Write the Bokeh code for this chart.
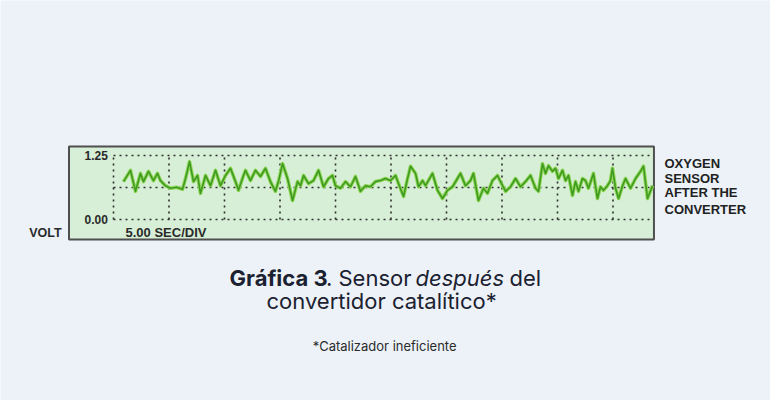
from bokeh.plotting import figure
from bokeh.models import Range1d
from bokeh.core.properties import value
from bokeh.embed import file_html
from bokeh.resources import INLINE

# ---------------- data ----------------
time_s = [0.90, 1.53, 1.98, 2.43, 2.70, 3.15, 3.60, 3.96, 4.23, 4.68,
          5.14, 5.68, 6.22, 6.49, 6.85, 7.21, 7.57, 7.84, 8.29, 8.74,
          9.19, 9.64, 10.09, 10.54, 10.99, 11.26, 11.71, 11.89, 12.34, 12.79,
          13.24, 13.69, 14.14, 14.59, 14.86, 15.23, 15.68, 16.13, 16.58, 16.85,
          17.12, 17.57, 18.02, 18.47, 18.92, 19.37, 19.73, 20.00, 20.45, 20.90,
          21.35, 21.80, 22.25, 22.70, 23.15, 23.60, 24.05, 24.50, 24.95, 25.41,
          25.68, 26.13, 26.49, 26.76, 27.21, 27.48, 27.84, 28.11, 28.74, 29.19,
          29.64, 30.09, 30.54, 30.99, 31.26, 31.71, 32.16, 32.43, 32.88, 33.33,
          33.69, 34.14, 34.59, 35.05, 35.32, 35.77, 36.22, 36.67, 37.12, 37.57,
          38.02, 38.29, 38.65, 38.92, 39.19, 39.55, 39.82, 40.09, 40.45, 40.72,
          40.99, 41.35, 41.62, 41.89, 42.25, 42.52, 42.79, 43.24, 43.60, 43.87,
          44.14, 44.50, 44.77, 44.95, 45.23, 45.50, 45.86, 46.13, 46.58, 47.03,
          47.48, 47.75, 48.11, 48.56]
volts = [0.74, 0.96, 0.55, 0.90, 0.74, 0.94, 0.76, 0.90, 0.76, 0.66,
         0.61, 0.63, 0.59, 0.80, 1.13, 0.74, 0.86, 0.51, 0.86, 0.66,
         0.96, 0.66, 0.86, 1.00, 0.74, 0.57, 0.86, 0.96, 0.76, 0.96,
         0.84, 1.00, 0.74, 0.55, 0.74, 1.09, 0.80, 0.37, 0.74, 0.66,
         0.86, 0.70, 0.76, 0.96, 0.64, 0.80, 0.86, 0.66, 0.61, 0.74,
         0.64, 0.84, 0.55, 0.66, 0.64, 0.74, 0.76, 0.80, 0.76, 0.86,
         0.70, 0.45, 0.80, 1.04, 0.90, 0.64, 0.76, 0.66, 0.90, 0.57,
         0.41, 0.57, 0.64, 0.80, 0.90, 0.66, 0.76, 0.90, 0.37, 0.61,
         0.51, 0.76, 0.86, 0.66, 0.55, 0.64, 0.80, 0.64, 0.74, 0.86,
         0.61, 0.55, 1.09, 0.90, 1.05, 0.94, 1.00, 0.80, 0.96, 0.76,
         0.86, 0.47, 0.74, 0.55, 0.80, 0.76, 0.61, 0.90, 0.41, 0.64,
         0.57, 0.66, 0.76, 1.00, 0.61, 0.41, 0.66, 0.80, 0.61, 0.80,
         0.94, 1.04, 0.41, 0.66]

div_ticks = [0, 5, 10, 15, 20, 25, 30, 35, 40, 45]      # 5.00 s per division
volt_grid = [0.0, 0.625, 1.25]
volt_tick_values = [1.25, 0.0]
volt_tick_labels = ["1.25", "0.00"]
time_label = "5.00 SEC/DIV"
unit_label = "VOLT"
sensor_lines = ["OXYGEN", "SENSOR", "AFTER THE", "CONVERTER"]
title_parts = ["Gráfica 3", ". Sensor", "después", "del"]
title_line2 = "convertidor catalítico*"
footnote = "*Catalizador ineficiente"

# ---------------- layout (view window in data units) ----------------
X_MIN, X_MAX = -10.180, 59.189
Y_MIN, Y_MAX = -3.535, 4.277
BOX_L, BOX_R, BOX_B, BOX_T = -4.01, 48.69, -0.39, 1.426
GRID_END = 48.4
BG = "#ecf2f8"

p = figure(width=770, height=400, output_backend="svg", toolbar_location=None,
           x_range=Range1d(X_MIN, X_MAX), y_range=Range1d(Y_MIN, Y_MAX),
           x_axis_type=None, y_axis_type=None, min_border=0,
           background_fill_color=BG, border_fill_color=BG,
           outline_line_color=None)
p.xgrid.visible = False
p.ygrid.visible = False

# scope screen
p.quad(left=[BOX_L], right=[BOX_R], bottom=[BOX_B], top=[BOX_T],
       fill_color="#d6efd6", line_color="#4f4f4f", line_width=2)

# dotted graticule
n = len(div_ticks)
p.segment(x0=div_ticks, y0=[volt_grid[0]] * n, x1=div_ticks, y1=[volt_grid[-1]] * n,
          line_color="#2f2f2f", line_width=1.6, line_dash="2 4")
m = len(volt_grid)
p.segment(x0=[div_ticks[0]] * m, y0=volt_grid, x1=[GRID_END] * m, y1=volt_grid,
          line_color="#2f2f2f", line_width=1.6, line_dash="2 4")

# trace
p.line(time_s, volts, line_color="#8fd655", line_width=3.6, line_join="round")
p.line(time_s, volts, line_color="#3e9a20", line_width=1.6, line_join="round")

lab_font = value("Liberation Sans")
p.text(x=[-0.5] * 2, y=volt_tick_values, text=volt_tick_labels,
       text_font=lab_font, text_font_style="bold", text_font_size="12px",
       text_color="#2a2a2a", text_align="right", text_baseline="middle")
p.text(x=[1.08], y=[-0.254], text=[time_label],
       text_font=lab_font, text_font_style="bold", text_font_size="13px",
       text_color="#2a2a2a", text_align="left", text_baseline="middle")
p.text(x=[-7.6], y=[-0.273], text=[unit_label],
       text_font=lab_font, text_font_style="bold", text_font_size="12.5px",
       text_color="#2a2a2a", text_align="left", text_baseline="middle")
p.text(x=[49.64] * 4, y=[1.094, 0.801, 0.518, 0.195], text=sensor_lines,
       text_font=lab_font, text_font_style="bold", text_font_size="13px",
       text_color="#222222", text_align="left", text_baseline="middle")

# caption (pieces placed left to right on one line)
cap_font = value("Inter")
CAP_SIZE = "22px"
line1_y, line2_y, foot_y = -1.152, -1.582, -2.461
piece_x = [10.45, 19.14, 27.21, 35.68]
piece_style = ["bold", "normal", "italic", "normal"]
for txt, px, st in zip(title_parts, piece_x, piece_style):
    p.text(x=[px], y=[line1_y], text=[txt], text_font=cap_font,
           text_font_style=st, text_font_size=CAP_SIZE, text_color="#1b2130",
           text_align="left", text_baseline="alphabetic")
p.text(x=[24.15], y=[line2_y], text=[title_line2], text_font=cap_font,
       text_font_size=CAP_SIZE, text_color="#1b2130",
       text_align="center", text_baseline="alphabetic")
p.text(x=[24.43], y=[foot_y], text=[footnote], text_font=cap_font,
       text_font_size="13px", text_color="#2b2b2b",
       text_align="center", text_baseline="alphabetic")

open("out.html", "w").write(file_html(p, INLINE))
